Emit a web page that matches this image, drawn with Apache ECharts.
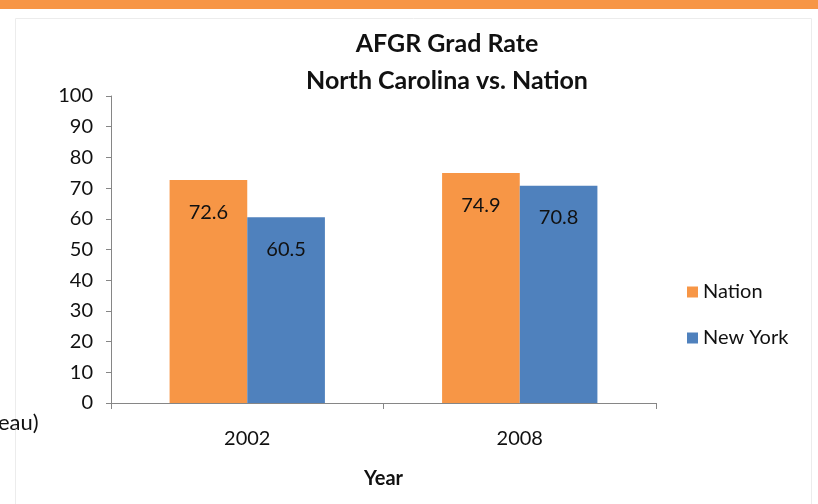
<!DOCTYPE html>
<html>
<head>
<meta charset="utf-8">
<script src="https://cdn.jsdelivr.net/npm/echarts@6/dist/echarts.min.js"></script>
<style>
  html, body { margin: 0; padding: 0; background: #fff; }
  #chart { width: 818px; height: 504px; }
</style>
</head>
<body>
<div id="chart"></div>
<script>
const years = ['2002', '2008']
const nation = [72.6, 74.9]
const newYork = [60.5, 70.8]

;(function () {
    const chart = echarts.init(document.getElementById('chart'))
    const font = 'Lato, "Liberation Sans", sans-serif'
    const axisColor = '#868686'

    const barLabel = {
        show: true,
        position: 'insideTop',
        distance: 22,
        color: '#111',
        fontSize: 20,
        fontFamily: font
    }

    const option = {
        animation: false,
        textStyle: { fontFamily: font },
        graphic: [
            // orange band on top of the slide
            { type: 'rect', left: 0, top: 0, shape: { width: 818, height: 9 }, style: { fill: '#F79646' } },
            // faint frame
            { type: 'rect', left: 13, top: 16, shape: { width: 796, height: 500 }, style: { fill: 'none', stroke: '#ececec', lineWidth: 1 } },
            // clipped text from the slide behind
            { type: 'text', left: -2, top: 412, style: { text: 'eau)', fontSize: 22, fontFamily: font, fill: '#111' } }
        ],
        title: {
            text: 'AFGR Grad Rate\nNorth Carolina vs. Nation',
            left: 442,
            top: 20,
            textAlign: 'center',
            textStyle: {
                fontSize: 25,
                fontWeight: 'bold',
                fontFamily: font,
                color: '#111',
                lineHeight: 37
            }
        },
        legend: {
            orient: 'vertical',
            left: 682,
            top: 277,
            icon: 'rect',
            itemWidth: 11,
            itemHeight: 11,
            itemGap: 26,
            textStyle: { fontSize: 20, fontFamily: font, color: '#111' },
            data: ['Nation', 'New York']
        },
        grid: {
            left: 111,
            right: 162,
            top: 96,
            bottom: 101
        },
        xAxis: {
            type: 'category',
            data: years,
            name: 'Year',
            nameLocation: 'middle',
            nameGap: 66,
            nameTextStyle: { fontSize: 20, fontWeight: 'bold', color: '#111', fontFamily: font },
            axisLine: { lineStyle: { color: axisColor } },
            axisTick: { show: true, length: 6, lineStyle: { color: axisColor } },
            axisLabel: { fontSize: 20, color: '#111', margin: 26, fontFamily: font }
        },
        yAxis: {
            type: 'value',
            min: 0,
            max: 100,
            interval: 10,
            axisLine: { show: true, lineStyle: { color: axisColor } },
            axisTick: { show: true, length: 5, lineStyle: { color: axisColor } },
            splitLine: { show: false },
            axisLabel: { fontSize: 20, color: '#111', margin: 18, fontFamily: font }
        },
        series: [
            {
                name: 'Nation',
                type: 'bar',
                data: nation,
                barGap: '0%',
                barCategoryGap: '43%',
                itemStyle: { color: '#F79646' },
                label: barLabel
            },
            {
                name: 'New York',
                type: 'bar',
                data: newYork,
                itemStyle: { color: '#4F81BD' },
                label: barLabel
            }
        ]
    }

    chart.setOption(option)
    window.addEventListener('resize', () => {
        chart.resize()
    })
})()
</script>
</body>
</html>
